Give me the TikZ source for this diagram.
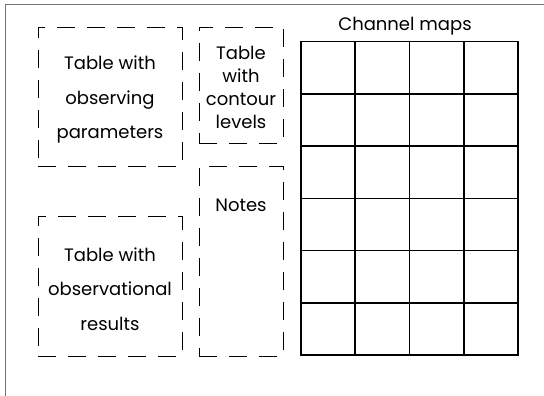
\documentclass[tikz,border=0pt]{standalone}
\usepackage{fontspec}
\setmainfont{Poppins}
\usepackage{tikz}
\usetikzlibrary{positioning}
\tikzstyle{dashbox} = [draw, dash pattern=on 18pt off 12pt, line width=0.8pt, inner sep=0pt, outer sep=0pt]
\tikzstyle{boxtext} = [font=\fontsize{18}{34.5}\selectfont, align=center, inner sep=0pt]
\tikzstyle{mapline} = [line width=1.6pt, line cap=rect]

\begin{document}
\begin{tikzpicture}[x=1pt,y=-1pt]
        \useasboundingbox (0,0) rectangle (544,396);
        \draw[black!55, line width=1.6pt] (5.5,396) -- (5.5,4.5) -- (544,4.5);

        % tables and notes
        \node[dashbox, minimum width=144pt, minimum height=139pt] at (110,96.5) (obspar) {};
        \node[boxtext] at (110,99.5) (obspartext) {Table with\\observing\\parameters};
        \node[dashbox, minimum width=84pt, minimum height=116pt] at (241,85) (contour) {};
        \node[boxtext, font=\fontsize{18}{23}\selectfont] at (241,87) (contourtext) {Table\\with\\contour\\levels};
        \node[dashbox, minimum width=84pt, minimum height=190pt] at (241,261) (notesbox) {};
        \node[boxtext, below=45pt of notesbox.north, anchor=base] (notes) {Notes};
        \node[dashbox, minimum width=144pt, minimum height=140pt] at (110,286) (obsres) {};
        \node[boxtext] at (110,289) (obsrestext) {Table with\\observational\\results};

        % channel maps
        \node[boxtext] at (405,26.5) (chan) {Channel maps};
        \foreach \i in {0,...,4}
            \draw[mapline] (301+54.25*\i,41.7) -- (301+54.25*\i,355);
        \foreach \j in {0,...,6}
            \draw[mapline] (301,41.7+52.22*\j) -- (518,41.7+52.22*\j);
    \end{tikzpicture}
\end{document}
